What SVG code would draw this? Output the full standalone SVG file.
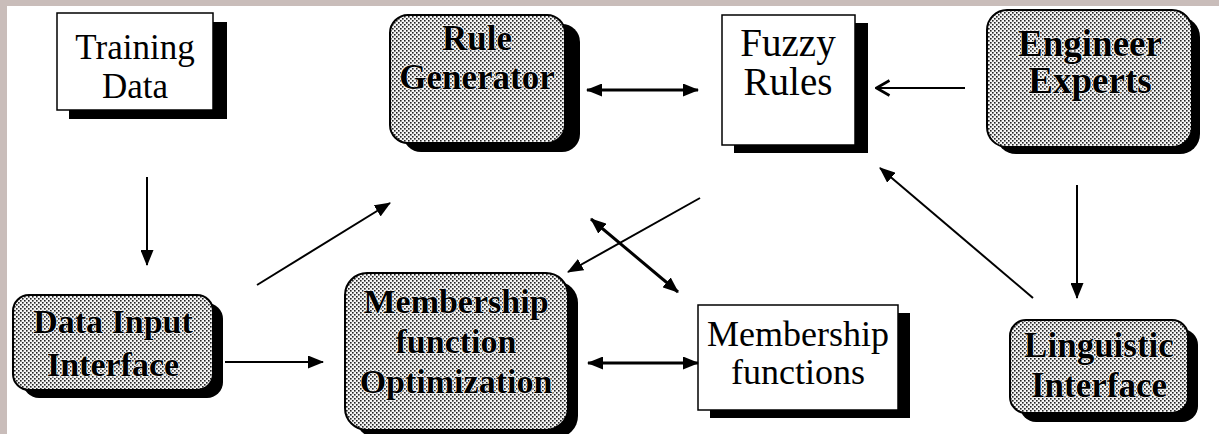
<svg xmlns="http://www.w3.org/2000/svg" width="1219" height="434" viewBox="0 0 1219 434">
  <defs>
    <pattern id="dots" width="4" height="4" patternUnits="userSpaceOnUse">
      <rect width="4" height="4" fill="#f4f4f4"/>
      <rect x="0" y="0" width="1.6" height="1.6" fill="#222"/>
      <rect x="2" y="2" width="1.6" height="1.6" fill="#222"/>
    </pattern>
    <marker id="ah" viewBox="0 0 16 13" refX="15" refY="6.5" markerWidth="16" markerHeight="13" markerUnits="userSpaceOnUse" orient="auto-start-reverse">
      <path d="M0,0 L16,6.5 L0,13 Z" fill="#000"/>
    </marker>
    <marker id="open" viewBox="0 0 16 18" refX="15" refY="9" markerWidth="16" markerHeight="18" markerUnits="userSpaceOnUse" orient="auto">
      <path d="M1.5,1.5 L14.5,9 L1.5,16.5" fill="none" stroke="#000" stroke-width="2.6"/>
    </marker>
  </defs>
  <style>
    .shadow { fill: #000; }
    .plain { fill: #fff; stroke: #000; stroke-width: 1.5; }
    .shaded { fill: url(#dots); stroke: #000; stroke-width: 2; }
    .t { font-family: "Liberation Serif", "Times New Roman", serif; text-anchor: middle; fill: #000; }
    .r { font-weight: normal; }
    .b { font-weight: bold; stroke: #fff; stroke-width: 1.2; paint-order: stroke; }
    .ln { stroke: #000; stroke-width: 2; fill: none; }
    .thick { stroke-width: 3; }
  </style>
  <rect x="0" y="0" width="1219" height="434" fill="#fff"/>
  <rect x="0" y="0" width="1219" height="6" fill="#c9bdba"/>
  <rect x="0" y="0" width="7" height="434" fill="#c9bdba"/>

  <g id="training-data">
    <rect class="shadow" x="69" y="22" width="158" height="97"/>
    <rect class="plain" x="57" y="13" width="156" height="97"/>
    <text class="t r" font-size="35" x="135" y="59">Training</text>
    <text class="t r" font-size="35" x="135" y="98">Data</text>
  </g>

  <g id="rule-generator">
    <rect class="shadow" x="403" y="24" width="177" height="128" rx="18"/>
    <rect class="shaded" x="390" y="15" width="175" height="128" rx="18"/>
    <text class="t b" font-size="35" x="477" y="50">Rule</text>
    <text class="t b" font-size="35" x="477" y="89">Generator</text>
  </g>

  <g id="fuzzy-rules">
    <rect class="shadow" x="734" y="23" width="134" height="130"/>
    <rect class="plain" x="722" y="15" width="133" height="130"/>
    <text class="t r" font-size="39" x="788" y="56">Fuzzy</text>
    <text class="t r" font-size="39" x="788" y="95">Rules</text>
  </g>

  <g id="engineer-experts">
    <rect class="shadow" x="996" y="17" width="204" height="137" rx="20"/>
    <rect class="shaded" x="987" y="10" width="205" height="137" rx="20"/>
    <text class="t b" font-size="37" x="1090" y="56">Engineer</text>
    <text class="t b" font-size="37" x="1090" y="93">Experts</text>
  </g>

  <g id="data-input-interface">
    <rect class="shadow" x="23" y="303" width="200" height="95" rx="16"/>
    <rect class="shaded" x="13" y="295" width="200" height="95" rx="16"/>
    <text class="t b" font-size="34" x="113" y="333">Data Input</text>
    <text class="t b" font-size="34" x="113" y="376">Interface</text>
  </g>

  <g id="mf-optimization">
    <rect class="shadow" x="355" y="281" width="223" height="157" rx="22"/>
    <rect class="shaded" x="345" y="273" width="223" height="157" rx="22"/>
    <text class="t b" font-size="34" x="456" y="313">Membership</text>
    <text class="t b" font-size="34" x="456" y="353">function</text>
    <text class="t b" font-size="34" x="456" y="393">Optimization</text>
  </g>

  <g id="membership-functions">
    <rect class="shadow" x="710" y="313" width="200" height="105"/>
    <rect class="plain" x="698" y="305" width="200" height="105"/>
    <text class="t r" font-size="36" x="798" y="346">Membership</text>
    <text class="t r" font-size="36" x="798" y="384">functions</text>
  </g>

  <g id="linguistic-interface">
    <rect class="shadow" x="1020" y="329" width="178" height="93" rx="16"/>
    <rect class="shaded" x="1010" y="320" width="178" height="93" rx="16"/>
    <text class="t b" font-size="35" x="1099" y="357">Linguistic</text>
    <text class="t b" font-size="35" x="1099" y="397">Interface</text>
  </g>

  <g id="connectors">
    <line class="ln" x1="147" y1="177" x2="147" y2="265" marker-end="url(#ah)"/>
    <line class="ln" x1="225" y1="362" x2="323" y2="362" marker-end="url(#ah)"/>
    <line class="ln" x1="257" y1="285" x2="390" y2="203" marker-end="url(#ah)"/>
    <line class="ln thick" x1="587" y1="90" x2="698" y2="90" marker-start="url(#ah)" marker-end="url(#ah)"/>
    <line class="ln" x1="965" y1="88" x2="876" y2="88" marker-end="url(#open)"/>
    <line class="ln" x1="1077" y1="185" x2="1077" y2="298" marker-end="url(#ah)"/>
    <line class="ln" x1="1033" y1="298" x2="880" y2="168" marker-end="url(#ah)"/>
    <line class="ln" x1="700" y1="198" x2="568" y2="272" marker-end="url(#ah)"/>
    <line class="ln thick" x1="591" y1="219" x2="678" y2="292" marker-start="url(#ah)" marker-end="url(#ah)"/>
    <line class="ln thick" x1="588" y1="363" x2="698" y2="363" marker-start="url(#ah)" marker-end="url(#ah)"/>
  </g>
</svg>
